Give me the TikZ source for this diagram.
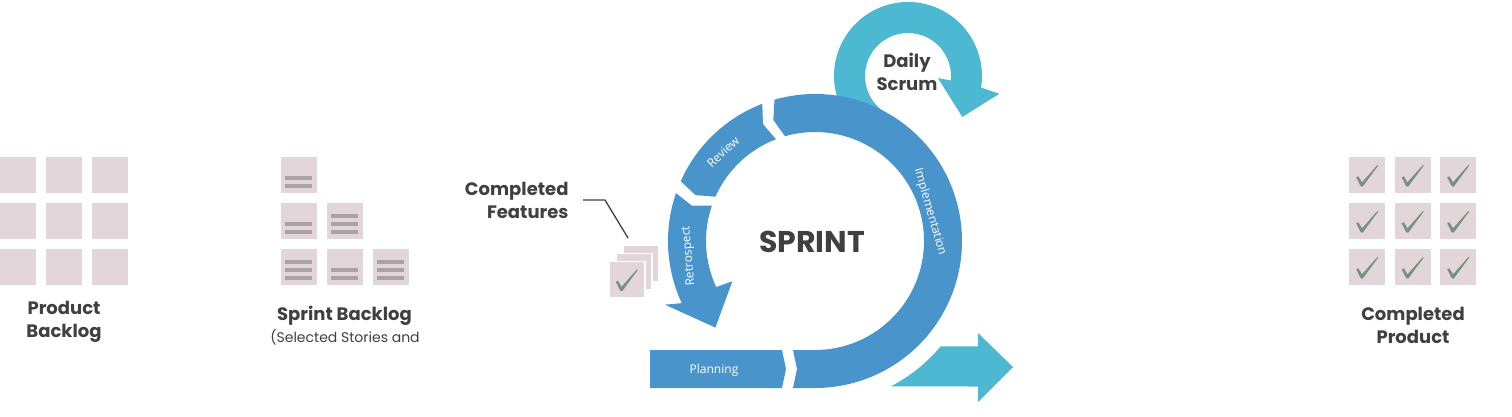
\documentclass[tikz,border=0pt]{standalone}
\usepackage{fontspec}
\setmainfont{Poppins}
\newfontfamily\phasefont{Open Sans}
\usetikzlibrary{positioning}

\definecolor{sprintblue}{HTML}{4A94CC}
\definecolor{scrumcyan}{HTML}{4DB8D2}
\definecolor{cardpink}{HTML}{E3D6DA}
\definecolor{cardbar}{HTML}{A9A3A6}
\definecolor{tickgreen}{HTML}{77917F}
\definecolor{textgray}{HTML}{404040}

\tikzset{
  card/.style={fill=cardpink, minimum size=36pt, inner sep=0pt, anchor=south west},
  heading/.style={text=textgray, font=\bfseries\fontsize{18}{23}\selectfont, align=center},
  phase/.style={text=white, font=\phasefont\fontsize{12}{14}\selectfont},
  leader/.style={draw=textgray, line width=1.3pt},
  checkmark/.pic={
    \fill[tickgreen] (-11,-2.5) -- (-8.8,-1.5) -- (-5.2,-7.5) -- (10.2,9.8) -- (11,9.2)
      -- (-4.5,-11.8) -- (-6.5,-11.5) -- cycle;
  }
}

\begin{document}
\begin{tikzpicture}[x=1pt, y=1pt]
\useasboundingbox (0,0) rectangle (1512,416);
\fill[white] (0,0) rectangle (1512,416);

% Product Backlog
\foreach \c in {0,1,2}
  \foreach \r in {0,1,2}
    \node[card] (pb-\r-\c) at (46*\c, 223-46*\r) {};
\node[heading] (pbl) at (64,94) {Product\\Backlog};

% Sprint Backlog
\foreach \x/\y/\n [count=\i] in {281/223/2, 281/177/2, 327/177/3, 281/131/3, 327/131/2, 373/131/3} {
  \node[card] (sb\i) at (\x,\y) {};
  \foreach \k in {1,...,\n}
    \fill[cardbar] (\x+4, \y+8*\k-3) rectangle ++(27,4);
}
\node[heading, anchor=base] (sbl) at (344.5,96) {Sprint Backlog};
\node[text=textgray, font=\fontsize{14}{16}\selectfont, anchor=base] (sblsub) at (345,74) {(Selected Stories and};

% Completed Features
\node[card, draw=white, line width=1.5pt] (cf3) at (622,134) {};
\node[card, draw=white, line width=1.5pt] (cf2) at (615,126) {};
\node[card, draw=white, line width=1.5pt] (cf1) at (608,118) {};
\pic at (cf1.center) {checkmark};
\node[heading, align=right, anchor=east] (feat) at (572,216) {Completed\\Features};
\coordinate (lead) at (628,178);
\draw[leader] ([xshift=11pt]feat.east) -- ++(22,0) -- (lead);

% Daily Scrum
\begin{scope}[shift={(908,340)}]
  \fill[scrumcyan] (240:74) arc[start angle=240, end angle=-9, radius=74]
    -- (-11:93) -- (-37:68) -- (-4:30) -- (-6:43)
    arc[start angle=-6, end angle=240, radius=43] -- cycle;
\end{scope}
\node[heading] (scrum) at (907,344) {Daily\\Scrum};

% Sprint ring
\begin{scope}[shift={(815,175)}]
  % Planning
  \fill[sprintblue] (-165,-147) -- (-33,-147) -- (-29,-128) -- (-33,-109) -- (-165,-109) -- cycle;
  % Implementation
  \fill[sprintblue] (-22,-147) -- (-18,-128) -- (-22,-109) -- (0,-109)
    arc[start angle=-90, end angle=106, radius=109] -- (109:128) -- (106:147)
    arc[start angle=106, end angle=-90, radius=147] -- cycle;
  % Review
  \fill[sprintblue] (111:109) -- (114:128) -- (111:147)
    arc[start angle=111, end angle=156, radius=147] -- (159:128) -- (156:109)
    arc[start angle=156, end angle=111, radius=109] -- cycle;
  % Retrospect
  \fill[sprintblue] (161:147) -- (164:128) -- (161:109)
    arc[start angle=161, end angle=205, radius=109] -- (206:92) -- (221:132) -- (203:163) -- (205:147)
    arc[start angle=205, end angle=161, radius=147] -- cycle;
  % next sprint
  \fill[scrumcyan] (-62.5:164) arc[start angle=-62.5, end angle=-40, radius=164]
    -- (163,-105.4) -- (163,-92) -- (198,-126) -- (163,-161) -- (163,-145.5) -- cycle;
\end{scope}

\node[phase] (plan) at (714,46) {Planning};
\node[phase, rotate=-74] (impl) at (930,204) {Implementation};
\node[phase, rotate=43] (rev) at (723,264) {Review};
\node[phase, rotate=95] (retro) at (689,160) {Retrospect};
\node[text=textgray, font=\bfseries\fontsize{30}{32}\selectfont, anchor=base] (sprint) at (812,164) {SPRINT};

% Completed Product
\foreach \c in {0,1,2}
  \foreach \r in {0,1,2} {
    \node[card] (cp-\r-\c) at (1349+45.5*\c, 223-46*\r) {};
    \pic at (cp-\r-\c.center) {checkmark};
  }
\node[heading] (cpl) at (1413,91) {Completed\\Product};
\end{tikzpicture}
\end{document}
